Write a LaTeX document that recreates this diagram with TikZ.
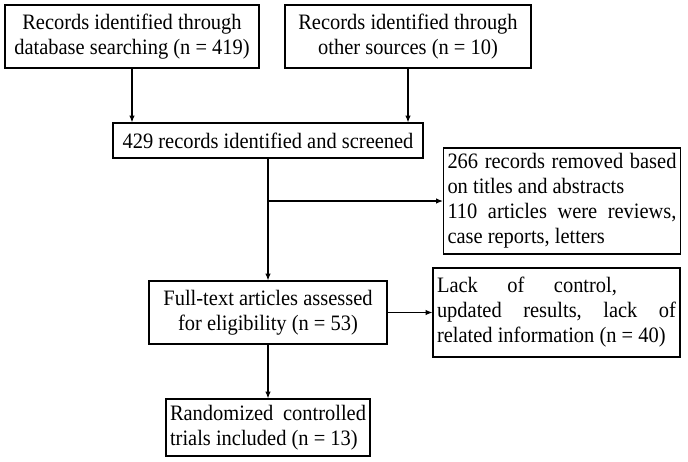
\documentclass[tikz,border=0pt]{standalone}
\usepackage{fontspec}
\setmainfont{Liberation Serif}[FakeStretch=0.93]
\usetikzlibrary{arrows.meta}

\tikzset{
	box/.style={draw, line width=0.9pt, inner sep=3pt, align=center,
		font=\fontsize{16.5}{18.75}\selectfont},
	sidebox/.style={box, align=flush left},
	link/.style={line width=0.8pt, -{Latex[length=5pt,width=4pt]}}
}

\begin{document}
\begin{tikzpicture}[x=0.75pt, y=-0.75pt]
	
	\useasboundingbox (0,0) rectangle (688,461);
	
	\node[box, minimum width=190.5pt, minimum height=47.25pt] (db) at (132,36.5)
		{Records identified through\\database searching (n = 419)};
	\node[box, minimum width=184.5pt, minimum height=47.25pt] (other) at (408,36.5)
		{Records identified through\\other sources (n = 10)};
	\node[box, minimum width=232.5pt, minimum height=26.25pt] (screen) at (268,140.5)
		{429 records identified and screened};
	\node[sidebox, text width=171.75pt, minimum height=79.5pt] (removed) at (562,201)
		{266\hfill records\hfill removed\hfill based\\on titles and abstracts\\
		 110\hfill articles\hfill were\hfill reviews,\\case reports, letters};
	\node[box, minimum width=178.5pt, minimum height=47.25pt] (full) at (268,312.5)
		{Full-text articles assessed\\for eligibility (n = 53)};
	\node[sidebox, text width=179.25pt, minimum height=66.75pt] (lack) at (556.5,312.5)
		{Lack\hfill of\hfill control,\hfill\hfill\null\\
		 updated\hfill results,\hfill lack\hfill of\\related information (n = 40)};
	\node[sidebox, text width=147pt, minimum height=42.75pt] (rct) at (268,427.5)
		{Randomized\hfill controlled\\trials included (n = 13)};
	
	%% connectors
	\draw[link] (db.south) -- (db.south |- screen.north);
	\draw[link] (other.south) -- (other.south |- screen.north);
	\draw[link] (full.north |- screen.south) -- (full.north);
	\coordinate (split) at (full.north |- removed.west);
	\draw[link] (split) -- (removed.west);
	\draw[link] (full.east) -- (full.east -| lack.west);
	\draw[link] (full.south) -- (rct.north);
	
\end{tikzpicture}
\end{document}
